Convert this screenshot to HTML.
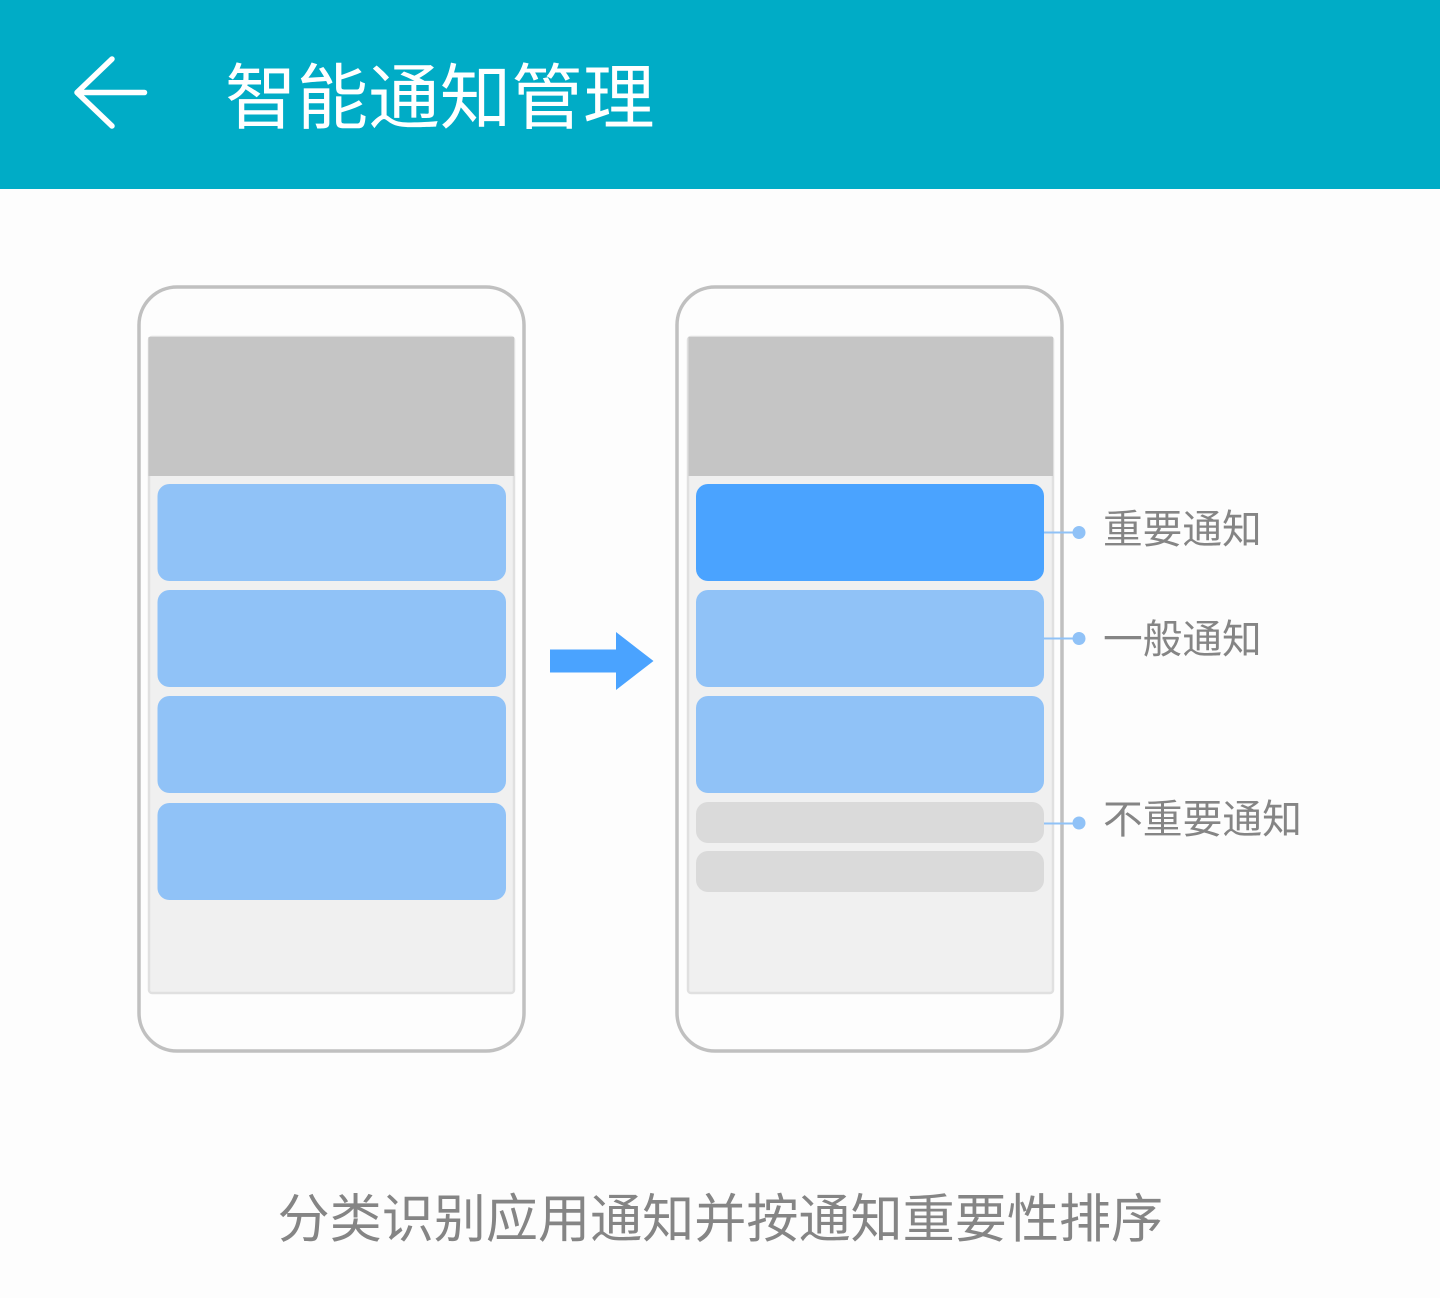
<!DOCTYPE html>
<html lang="zh-CN">
<head>
<meta charset="utf-8">
<title>智能通知管理</title>
<style>
html,body{margin:0;padding:0;background:#fdfdfd}
#page{position:relative;width:1440px;height:1298px;overflow:hidden;background:#fdfdfd;font-family:"Liberation Sans","Noto Sans CJK SC",sans-serif}
svg{position:absolute;left:0;top:0}
.t{position:absolute;white-space:nowrap;line-height:1;color:#858585}
</style>
</head>
<body>
<div id="page">
<svg width="1440" height="1298" viewBox="0 0 1440 1298" xmlns="http://www.w3.org/2000/svg">
  <rect x="0" y="0" width="1440" height="189" fill="#00acc6"/>
  <path d="M144.500 92.500H77.500M112 59L77 92.500L112 126" fill="none" stroke="#fff" stroke-width="5.500" stroke-linecap="round" stroke-linejoin="round"/>

  <!-- left phone -->
  <rect x="139" y="287" width="385" height="764" rx="38" fill="#fdfdfd" stroke="#c0c0c0" stroke-width="3.500"/>
  <rect x="149" y="337" width="365" height="656" rx="3" fill="#f0f0f0" stroke="#e0e0e0" stroke-width="2.500"/>
  <rect x="148.500" y="337" width="365.500" height="139" fill="#c5c5c5"/>
  <rect x="157.500" y="484" width="348.500" height="97" rx="12" fill="#90c2f7"/>
  <rect x="157.500" y="590" width="348.500" height="97" rx="12" fill="#90c2f7"/>
  <rect x="157.500" y="696" width="348.500" height="97" rx="12" fill="#90c2f7"/>
  <rect x="157.500" y="803" width="348.500" height="97" rx="12" fill="#90c2f7"/>

  <!-- arrow -->
  <polygon points="550,649.500 616,649.500 616,632 653.500,661 616,690 616,672.500 550,672.500" fill="#4aa3ff"/>

  <!-- right phone -->
  <rect x="677" y="287" width="385" height="764" rx="38" fill="#fdfdfd" stroke="#c0c0c0" stroke-width="3.500"/>
  <rect x="688" y="337" width="365" height="656" rx="3" fill="#f0f0f0" stroke="#e0e0e0" stroke-width="2.500"/>
  <rect x="688.500" y="337" width="364.500" height="139" fill="#c5c5c5"/>
  <rect x="696" y="484" width="348" height="97" rx="12" fill="#4aa3ff"/>
  <rect x="696" y="590" width="348" height="97" rx="12" fill="#90c2f7"/>
  <rect x="696" y="696" width="348" height="97" rx="12" fill="#90c2f7"/>
  <rect x="696" y="802" width="348" height="41" rx="12" fill="#dadada"/>
  <rect x="696" y="851" width="348" height="41" rx="12" fill="#dadada"/>

  <!-- connectors -->
  <g stroke="#90c2f7" stroke-width="2" fill="#90c2f7">
    <line x1="1044" y1="532.500" x2="1079" y2="532.500"/>
    <line x1="1044" y1="638.500" x2="1079" y2="638.500"/>
    <line x1="1044" y1="823.500" x2="1079" y2="823.500"/>
  </g>
  <circle cx="1079" cy="532.500" r="6.500" fill="#90c2f7"/>
  <circle cx="1079" cy="638.500" r="6.500" fill="#90c2f7"/>
  <circle cx="1079" cy="823" r="6.500" fill="#90c2f7"/>
</svg>

<div class="t" style="left:225px;top:64px;font-size:71.600px;color:#fff;font-weight:400">智能通知管理</div>
<div class="t" style="left:1103px;top:511px;font-size:39.700px">重要通知</div>
<div class="t" style="left:1103px;top:621px;font-size:39.700px">一般通知</div>
<div class="t" style="left:1103px;top:801px;font-size:39.800px">不重要通知</div>
<div class="t" style="left:277.500px;top:1194px;font-size:52.100px">分类识别应用通知并按通知重要性排序</div>
</div>
</body>
</html>
